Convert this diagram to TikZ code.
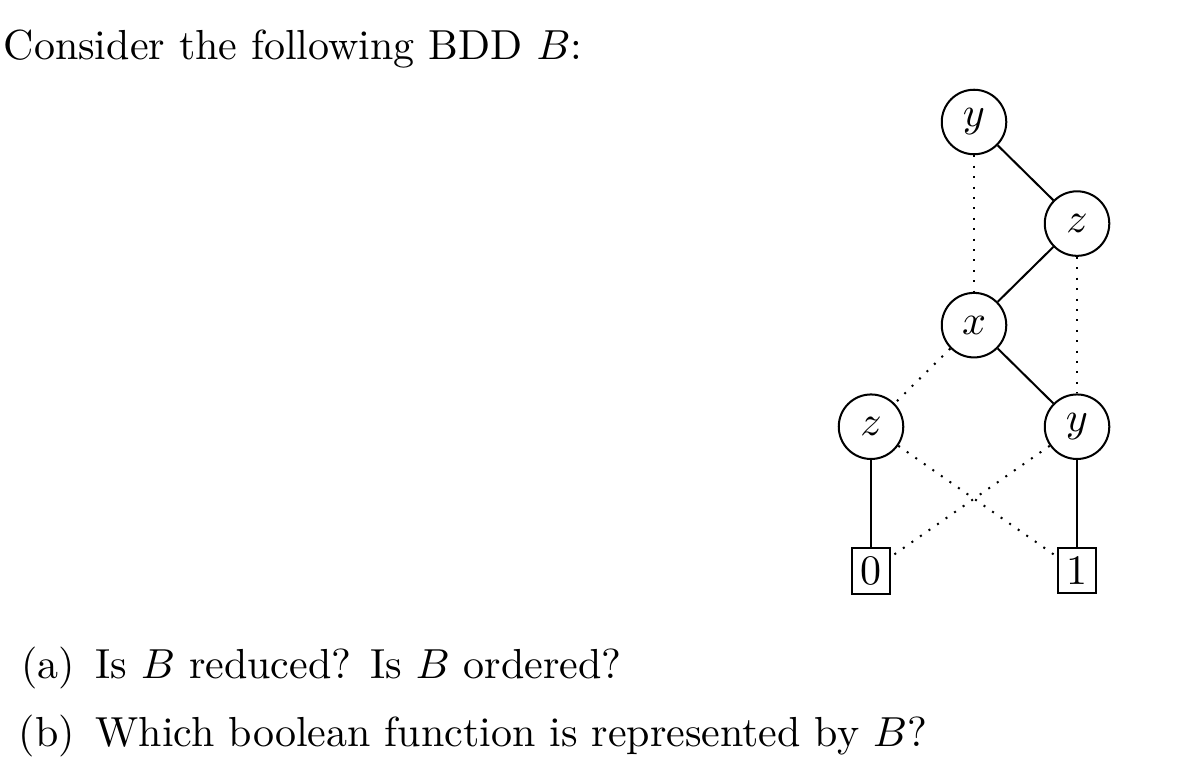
\documentclass[tikz,border=0pt]{standalone}
\usetikzlibrary{positioning}

\begin{document}
\begin{tikzpicture}[
    line width=0.48pt,
    node distance=0.85cm and 0.862cm, on grid,
    var/.style={draw, circle, minimum size=0.54cm, inner sep=0pt},
    leaf/.style={draw, inner sep=2pt},
    hi/.style={solid},
    lo/.style={dotted},
    txt/.style={inner sep=0pt}
  ]
    \useasboundingbox (0,0) rectangle (10.042,6.477);

    %% Heading
    \node[txt, anchor=base west] (title) at (0.023,5.979)
      {Consider the following BDD $B$:};

    %% BDD nodes
    \node[var] (y1) at (8.151,5.456) {$y$};
    \node[var, below right=of y1] (z1) {$z$};
    \node[var, below left=of z1] (x1) {$x$};
    \node[var, below left=of x1] (z2) {$z$};
    \node[var, right=1.724cm of z2] (y2) {$y$};
    \node[leaf, below=1.205cm of z2] (n0) {0};
    \node[leaf, below=1.205cm of y2] (n1) {1};

    %% High edges
    \draw[hi] (y1) -- (z1);
    \draw[hi] (z1) -- (x1);
    \draw[hi] (x1) -- (y2);
    \draw[hi] (z2) -- (n0);
    \draw[hi] (y2) -- (n1);

    %% Low edges
    \draw[lo] (y1) -- (x1);
    \draw[lo] (z1) -- (y2);
    \draw[lo] (x1) -- (z2);
    \draw[lo] (z2) -- (n1);
    \draw[lo] (y2) -- (n0);

    %% Questions
    \node[txt, anchor=base east] (qa) at (0.636,0.801) {(a)};
    \node[txt, anchor=base west] (qatext) at (0.791,0.801)
      {Is $B$ reduced? Is $B$ ordered?};
    \node[txt, anchor=base east] (qb) at (0.636,0.234) {(b)};
    \node[txt, anchor=base west] (qbtext) at (0.791,0.234)
      {Which boolean function is represented by $B$?};
  \end{tikzpicture}
\end{document}
